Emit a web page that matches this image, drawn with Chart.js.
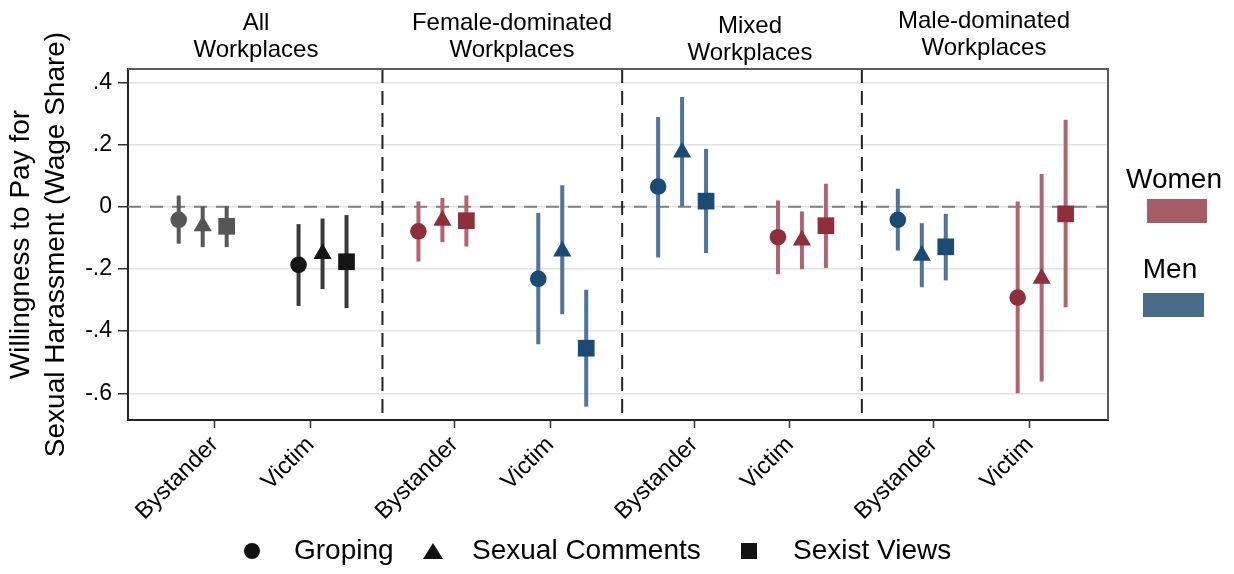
<!DOCTYPE html>
<html><head><meta charset="utf-8">
<script src="https://cdn.jsdelivr.net/npm/chart.js@4.4.0/dist/chart.umd.min.js"></script>
<style>
html,body{margin:0;padding:0;background:#fff;}
#wrap{position:relative;width:1234px;height:574px;font-family:"Liberation Sans",Arial,sans-serif;color:#000;overflow:hidden;}
canvas{position:absolute;left:0;top:0;}
.t{position:absolute;white-space:nowrap;}
.ptitle{transform:translateX(-50%);text-align:center;font-size:24px;line-height:27px;}
.leg{font-size:28px;line-height:28px;}
.sw{position:absolute;}
</style></head>
<body><div id="wrap"><canvas id="c" width="1234" height="574"></canvas>
<div class="t ptitle" style="left:256px;top:8px">All<br>Workplaces</div>
<div class="t ptitle" style="left:512px;top:8px">Female-dominated<br>Workplaces</div>
<div class="t ptitle" style="left:750px;top:11px">Mixed<br>Workplaces</div>
<div class="t ptitle" style="left:984px;top:6px">Male-dominated<br>Workplaces</div>
<div class="t leg" style="left:1174px;top:165px;transform:translateX(-50%)">Women</div>
<div class="sw" style="left:1147px;top:199px;width:60px;height:24px;background:rgb(166,92,100)"></div>
<div class="t leg" style="left:1170px;top:255px;transform:translateX(-50%)">Men</div>
<div class="sw" style="left:1143px;top:293px;width:61px;height:24px;background:rgb(74,106,138)"></div>
<div class="sw" style="left:244px;top:543px;width:16px;height:16px;border-radius:50%;background:#111"></div>
<div class="t leg" style="left:294px;top:536px">Groping</div>
<div class="sw" style="left:423px;top:543px;width:0;height:0;border-left:10px solid transparent;border-right:10px solid transparent;border-bottom:16px solid #111"></div>
<div class="t leg" style="left:472px;top:536px">Sexual Comments</div>
<div class="sw" style="left:741px;top:543px;width:16px;height:16px;background:#111"></div>
<div class="t leg" style="left:793px;top:536px">Sexist Views</div>
</div>
<script>
// ---- data ----
const xTickValues = [1, 2, 3.5, 4.5, 6, 7, 8.5, 9.5];
const xTickLabels = ['Bystander','Victim','Bystander','Victim','Bystander','Victim','Bystander','Victim'];
const yTickValues = [-0.6, -0.4, -0.2, 0, 0.2, 0.4];
const yTickLabels = ['-.6','-.4','-.2','0','.2','.4'];
const dividerValues = [2.75, 5.25, 7.75];
const pointGroup = ['allBy','allVi','women','men','men','women','men','women'];

const gropingX  = [0.625, 1.875, 3.125, 4.375, 5.625, 6.875, 8.125, 9.375];
const commentsX = [0.875, 2.125, 3.375, 4.625, 5.875, 7.125, 8.375, 9.625];
const sexistX   = [1.125, 2.375, 3.625, 4.875, 6.125, 7.375, 8.625, 9.875];

const gropingEst = [-0.042, -0.187, -0.079, -0.232, 0.065, -0.098, -0.042, -0.292];
const gropingLo  = [-0.119, -0.319, -0.176, -0.442, -0.163, -0.217, -0.141, -0.600];
const gropingHi  = [0.036, -0.056, 0.017, -0.020, 0.289, 0.020, 0.058, 0.017];

const commentsEst = [-0.062, -0.151, -0.044, -0.143, 0.175, -0.108, -0.157, -0.231];
const commentsLo  = [-0.130, -0.265, -0.114, -0.346, 0.000, -0.201, -0.259, -0.562];
const commentsHi  = [0.001, -0.038, 0.028, 0.069, 0.353, -0.015, -0.053, 0.105];

const sexistEst = [-0.063, -0.177, -0.045, -0.455, 0.018, -0.061, -0.129, -0.023];
const sexistLo  = [-0.130, -0.326, -0.128, -0.643, -0.149, -0.197, -0.237, -0.323];
const sexistHi  = [0.001, -0.027, 0.036, -0.267, 0.186, 0.074, -0.023, 0.280];

// ---- styles ----
const markerColor = {allBy:'#565656', allVi:'#151515', women:'#8e2f3b', men:'#1b4a75'};
const barColor = {allBy:'#585858', allVi:'#3a3a3a', women:'#b3636d', men:'#4d749b'};
const FONT = '"Liberation Sans", Arial, sans-serif';

function pts(xs, ys){ return xs.map((x,i)=>({x:x, y:ys[i]})); }
function bars(xs, lo, hi){ return xs.map((x,i)=>({x:x, y:[lo[i], hi[i]]})); }
const mCols = pointGroup.map(g=>markerColor[g]);
const bCols = pointGroup.map(g=>barColor[g]);

const decor = {
  id:'decor',
  beforeDatasetsDraw(chart){
    const {ctx, chartArea:a, scales:{x, y}} = chart;
    ctx.save();
    ctx.lineWidth = 2;
    ctx.strokeStyle = '#808080';
    ctx.setLineDash([13, 9]);
    const y0 = y.getPixelForValue(0);
    ctx.beginPath(); ctx.moveTo(a.left, y0); ctx.lineTo(a.right, y0); ctx.stroke();
    ctx.strokeStyle = '#222';
    ctx.setLineDash([14, 8]);
    dividerValues.forEach(v=>{
      const px = x.getPixelForValue(v);
      ctx.beginPath(); ctx.moveTo(px, a.top); ctx.lineTo(px, a.bottom); ctx.stroke();
    });
    ctx.restore();
  },
  afterDraw(chart){
    const {ctx, chartArea:a} = chart;
    ctx.save();
    ctx.lineWidth = 2;
    ctx.strokeStyle = '#5a5a5a';
    ctx.beginPath(); ctx.moveTo(a.left, a.top); ctx.lineTo(a.right, a.top); ctx.lineTo(a.right, a.bottom); ctx.stroke();
    ctx.restore();
  }
};

const common = {type:'scatter', pointBorderWidth:0, order:0, pointHoverRadius:0};
const barCommon = {type:'bar', grouped:false, maxBarThickness:4, order:1, borderWidth:0};

new Chart(document.getElementById('c'), {
  type:'scatter',
  data:{ datasets:[
    Object.assign({label:'Groping CI', data:bars(gropingX, gropingLo, gropingHi), backgroundColor:bCols}, barCommon),
    Object.assign({label:'Sexual Comments CI', data:bars(commentsX, commentsLo, commentsHi), backgroundColor:bCols}, barCommon),
    Object.assign({label:'Sexist Views CI', data:bars(sexistX, sexistLo, sexistHi), backgroundColor:bCols}, barCommon),
    Object.assign({label:'Groping', data:pts(gropingX, gropingEst), pointStyle:'circle', pointRadius:8.3, pointBackgroundColor:mCols}, common),
    Object.assign({label:'Sexual Comments', data:pts(commentsX, commentsEst), pointStyle:'triangle', pointRadius:10.5, pointBackgroundColor:mCols}, common),
    Object.assign({label:'Sexist Views', data:pts(sexistX, sexistEst), pointStyle:'rect', pointRadius:11.8, pointBackgroundColor:mCols}, common)
  ]},
  options:{
    responsive:false, animation:false, devicePixelRatio:1,
    layout:{padding:{left:0, right:126, top:69, bottom:0}},
    plugins:{legend:{display:false}, tooltip:{enabled:false}},
    events:[],
    scales:{
      x:{
        type:'linear', min:0.096, max:10.317, offset:false,
        afterBuildTicks(s){ s.ticks = xTickValues.map(v=>({value:v})); },
        afterFit(s){ s.height = 154; s.paddingLeft = 0; s.paddingRight = 0; },
        ticks:{autoSkip:false, minRotation:45, maxRotation:45, padding:3, color:'#000',
               font:{size:23.5, family:FONT}, callback:(v,i)=>xTickLabels[i]},
        grid:{offset:false, drawOnChartArea:false, drawTicks:true, tickLength:8, tickColor:'#333', tickWidth:1.5},
        border:{display:true, color:'#222', width:2}
      },
      y:{
        type:'linear', min:-0.686, max:0.443,
        afterBuildTicks(s){ s.ticks = yTickValues.map(v=>({value:v})); },
        afterFit(s){ s.width = 128; s.paddingTop = 0; s.paddingBottom = 0; },
        ticks:{padding:6, color:'#000', font:{size:23, family:FONT}, callback:(v,i)=>yTickLabels[i]},
        grid:{color:'#e2e2e2', lineWidth:1.5, tickColor:'#333', tickLength:10, tickWidth:1.5},
        border:{display:true, color:'#222', width:2},
        title:{display:true, text:['Willingness to Pay for','Sexual Harassment (Wage Share)'],
               color:'#000', font:{size:28, family:FONT, lineHeight:1.25}, padding:{top:4, bottom:0}}
      }
    }
  },
  plugins:[decor]
});
</script>
</body></html>
